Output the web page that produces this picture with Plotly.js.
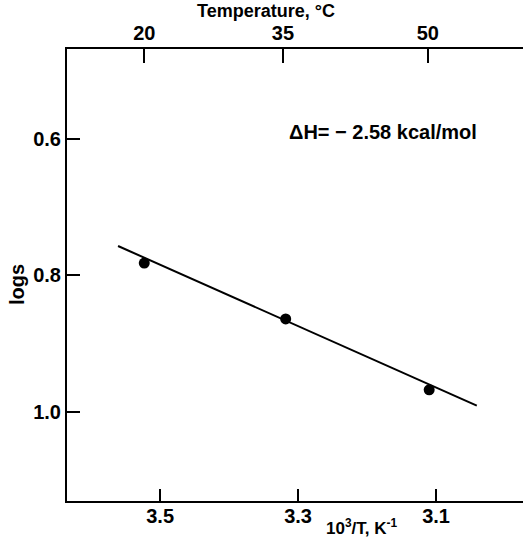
<!DOCTYPE html>
<html>
<head>
<meta charset="utf-8">
<script src="https://cdn.plot.ly/plotly-3.0.1.min.js"></script>
<style>html,body{margin:0;padding:0;background:#fff;}#chart{width:523px;height:545px;}</style>
</head>
<body>
<div id="chart"></div>
<script>
// Data
const invT = [3.523, 3.318, 3.110];          // 10^3/T, K^-1
const logS = [0.782, 0.864, 0.968];          // log s
const fitX = [3.561, 3.041];                 // regression line ends
const fitY = [0.757, 0.991];
const bottomTicks = [3.5, 3.3, 3.1];
const leftTicks = [0.6, 0.8, 1.0];
const topTickVals = [3.523, 3.322, 3.112];
const topTickText = ['20', '35', '50'];

const FONT = 'Liberation Sans, Arial, sans-serif';

const traces = [
  {x: fitX, y: fitY, mode: 'lines', line: {color: '#000', width: 2}, hoverinfo: 'skip', showlegend: false},
  {x: invT, y: logS, mode: 'markers', marker: {color: '#000', size: 11}, showlegend: false},
  {x: invT, y: logS, xaxis: 'x2', mode: 'markers', marker: {opacity: 0}, showlegend: false, hoverinfo: 'skip'}
];

const layout = {
  width: 523, height: 545,
  margin: {l: 67, r: 0, t: 49, b: 44},
  paper_bgcolor: '#fff', plot_bgcolor: '#fff',
  showlegend: false,
  xaxis: {
    range: [3.635, 2.974], showgrid: false, zeroline: false,
    showline: true, linecolor: '#000', linewidth: 2,
    ticks: 'inside', ticklen: 12, tickwidth: 2, tickcolor: '#000',
    ticklabelstandoff: -4,
    tickvals: bottomTicks, ticktext: bottomTicks.map(v => v.toFixed(1)),
    tickfont: {family: FONT, size: 20, color: '#000', weight: 'bold'}
  },
  xaxis2: {
    overlaying: 'x', side: 'top', matches: 'x', range: [3.635, 2.974],
    showgrid: false, zeroline: false,
    showline: true, linecolor: '#000', linewidth: 2,
    ticks: 'inside', ticklen: 14, tickwidth: 2, tickcolor: '#000',
    ticklabelstandoff: -1,
    tickvals: topTickVals, ticktext: topTickText,
    tickfont: {family: FONT, size: 20, color: '#000', weight: 'bold'}
  },
  yaxis: {
    range: [1.131, 0.468], showgrid: false, zeroline: false,
    showline: true, linecolor: '#000', linewidth: 2,
    ticks: 'inside', ticklen: 13, tickwidth: 2, tickcolor: '#000',
    tickvals: leftTicks, ticktext: leftTicks.map(v => v.toFixed(1)),
    tickfont: {family: FONT, size: 20, color: '#000', weight: 'bold'}
  },
  annotations: [
    {xref: 'paper', yref: 'paper', x: -0.1096, y: 0.478, xanchor: 'center', yanchor: 'middle',
     text: 'logs', textangle: -90,
     showarrow: false, font: {family: FONT, size: 20, color: '#000', weight: 'bold'}},
    {xref: 'paper', yref: 'paper', x: 0.436, y: 1.083, xanchor: 'center', yanchor: 'middle',
     text: 'Temperature, °C',
     showarrow: false, font: {family: FONT, size: 18, color: '#000', weight: 'bold'}},
    {xref: 'paper', yref: 'paper', x: 0.645, y: -0.058, xanchor: 'center', yanchor: 'middle',
     text: '10<sup>3</sup>/T, K<sup>-1</sup>',
     showarrow: false, font: {family: FONT, size: 17, color: '#000', weight: 'bold'}},
    {xref: 'x', yref: 'y', x: 3.177, y: 0.59, xanchor: 'center', yanchor: 'middle',
     text: 'ΔH= − 2.58 kcal/mol',
     showarrow: false, font: {family: FONT, size: 20, color: '#000', weight: 'bold'}}
  ]
};

Plotly.newPlot('chart', traces, layout, {displayModeBar: false, staticPlot: true});
</script>
</body>
</html>
